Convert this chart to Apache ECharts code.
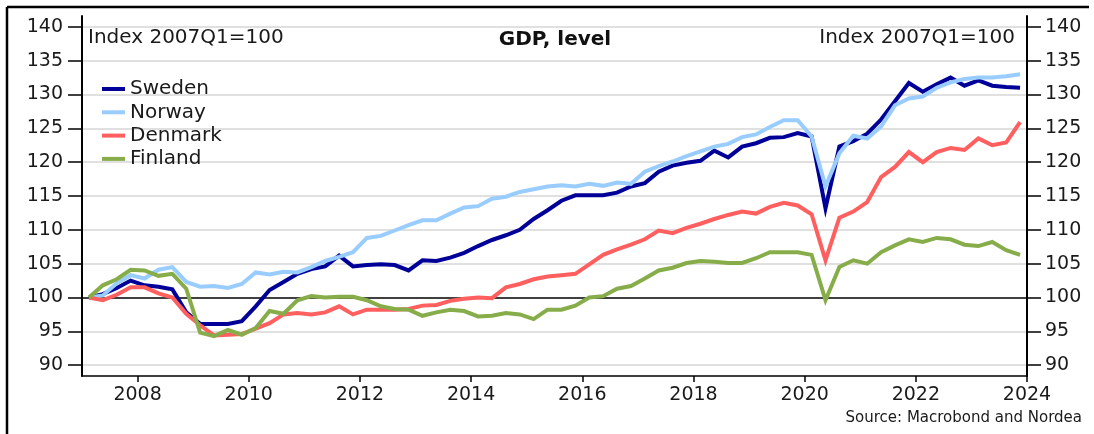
<!DOCTYPE html>
<html>
<head>
<meta charset="utf-8">
<title>GDP, level</title>
<script src="https://cdn.jsdelivr.net/npm/echarts@6/dist/echarts.min.js"></script>
<style>
  html, body { margin: 0; padding: 0; background: #fff; }
  #chart { width: 1094px; height: 434px; }
</style>
</head>
<body>
<div id="chart"></div>
<script>
// quarterly data, 2007Q1 .. 2023Q4, index 2007Q1 = 100
const quarters = []
for (let yr = 2007; yr <= 2023; yr++) {
  for (let q = 1; q <= 4; q++) quarters.push(yr + 'Q' + q)
}

const sweden = [
  100.0, 100.5, 101.4, 102.5, 101.8, 101.6, 101.2, 97.8,
  96.1, 96.1, 96.1, 96.5, 98.7, 101.1, 102.3, 103.5,
  104.2, 104.6, 106.2, 104.6, 104.8, 104.9, 104.8, 104.0,
  105.5, 105.4, 105.9, 106.6, 107.6, 108.5, 109.2, 110.0,
  111.6, 112.9, 114.3, 115.1, 115.1, 115.1, 115.5, 116.4,
  116.9, 118.6, 119.5, 119.9, 120.2, 121.7, 120.7, 122.3,
  122.8, 123.6, 123.7, 124.3, 123.8, 113.2, 122.3, 123.1,
  124.2, 126.3, 129.0, 131.7, 130.4, 131.5, 132.5, 131.3,
  132.1, 131.3, 131.1, 131.0
]
const norway = [
  100.0, 100.3, 102.1, 103.3, 102.8, 104.1, 104.5, 102.3,
  101.6, 101.7, 101.4, 102.0, 103.7, 103.4, 103.8, 103.7,
  104.5, 105.4, 106.0, 106.7, 108.8, 109.1, 109.9, 110.7,
  111.4, 111.4, 112.4, 113.3, 113.5, 114.6, 114.9, 115.6,
  116.0, 116.4, 116.6, 116.4, 116.8, 116.5, 117.0, 116.8,
  118.6, 119.4, 120.1, 120.9, 121.6, 122.3, 122.7, 123.7,
  124.1, 125.2, 126.2, 126.2, 123.8, 116.4, 121.3, 123.9,
  123.5, 125.3, 128.4, 129.4, 129.7, 131.0, 131.8, 132.3,
  132.5, 132.5, 132.7, 133.0
]
const denmark = [
  100.0, 99.6, 100.4, 101.5, 101.5, 100.6, 100.0, 97.6,
  95.9, 94.4, 94.5, 94.6, 95.4, 96.2, 97.5, 97.7,
  97.5, 97.8, 98.7, 97.5, 98.2, 98.2, 98.2, 98.3,
  98.8, 98.9, 99.5, 99.8, 100.0, 99.9, 101.5, 102.0,
  102.7, 103.1, 103.3, 103.5, 104.9, 106.3, 107.1, 107.8,
  108.6, 109.9, 109.5, 110.3, 110.9, 111.6, 112.2, 112.7,
  112.4, 113.4, 114.0, 113.6, 112.3, 105.5, 111.8, 112.7,
  114.1, 117.8, 119.3, 121.5, 120.0, 121.5, 122.1, 121.8,
  123.5, 122.5, 122.9, 125.9
]
const finland = [
  100.0, 101.8, 102.7, 104.1, 104.0, 103.2, 103.5, 101.3,
  94.8, 94.3, 95.2, 94.5, 95.5, 98.0, 97.6, 99.6,
  100.2, 100.0, 100.1, 100.1, 99.6, 98.7, 98.3, 98.2,
  97.3, 97.8, 98.2, 98.0, 97.2, 97.3, 97.7, 97.5,
  96.8, 98.2, 98.2, 98.8, 100.0, 100.2, 101.3, 101.7,
  102.8, 104.0, 104.4, 105.1, 105.4, 105.3, 105.1, 105.1,
  105.8, 106.7, 106.7, 106.7, 106.3, 99.6, 104.5, 105.5,
  105.0, 106.7, 107.7, 108.6, 108.2, 108.8, 108.6, 107.8,
  107.6, 108.2, 107.0, 106.3
]

const yTicks = [90, 95, 100, 105, 110, 115, 120, 125, 130, 135, 140]
const yearTicks = [2008, 2010, 2012, 2014, 2016, 2018, 2020, 2022, 2024]

const FONT = 'DejaVu Sans'
const TEXT = '#1a1a1a'

// place each quarter in the middle of its period on the year axis
function toPoints(values) {
  return values.map((v, i) => {
    const [yr, q] = quarters[i].split('Q').map(Number)
    return [yr + (q - 0.5) / 4, v]
  })
}

function makeYAxis(position, margin) {
  return {
    type: 'value',
    position: position,
    min: 88.4,
    max: 141.6,
    axisLine: { show: true, lineStyle: { color: '#000', width: 2 } },
    axisTick: {
      show: true,
      inside: false,
      length: 14,
      customValues: yTicks,
      lineStyle: { color: '#000', width: 1.5 },
    },
    axisLabel: {
      customValues: yTicks,
      margin: margin,
      color: TEXT,
      fontFamily: FONT,
      fontSize: 19,
    },
    splitLine: {
      show: position === 'left',
      lineStyle: {
        color: yTicks.map(v => (v === 100 ? '#000' : '#d6d6d6')),
        width: 1.6,
      },
    },
  }
}

function lineSeries(name, values, color) {
  return {
    name: name,
    type: 'line',
    data: toPoints(values),
    showSymbol: false,
    symbol: 'none',
    lineStyle: { color: color, width: 4, join: 'miter', cap: 'butt' },
    itemStyle: { color: color },
  }
}

const chart = echarts.init(document.getElementById('chart'), null, { renderer: 'canvas' })

chart.setOption({
  animation: false,
  backgroundColor: '#fff',
  grid: { left: 82, right: 67, top: 16, bottom: 58 },
  legend: {
    orient: 'vertical',
    left: 97,
    top: 74,
    itemWidth: 23,
    itemHeight: 4,
    itemGap: 3.3,
    icon: 'rect',
    textStyle: { fontFamily: FONT, fontSize: 20, color: TEXT, lineHeight: 20 },
    data: ['Sweden', 'Norway', 'Denmark', 'Finland'],
  },
  xAxis: {
    type: 'value',
    min: 2007,
    max: 2024,
    axisLine: { show: true, onZero: false, lineStyle: { color: '#000', width: 1.5 } },
    axisTick: {
      show: true,
      length: 6,
      customValues: yearTicks,
      lineStyle: { color: '#000', width: 1.5 },
    },
    axisLabel: {
      customValues: yearTicks,
      formatter: v => String(v),
      margin: 10,
      color: TEXT,
      fontFamily: FONT,
      fontSize: 19,
    },
    splitLine: { show: false },
  },
  yAxis: [makeYAxis('left', 19), makeYAxis('right', 18)],
  series: [
    lineSeries('Sweden', sweden, '#000099'),
    lineSeries('Norway', norway, '#99ccff'),
    lineSeries('Denmark', denmark, '#ff5f5f'),
    lineSeries('Finland', finland, '#86ad4a'),
  ],
  graphic: [
    { type: 'line', shape: { x1: 7, y1: 7, x2: 1089, y2: 7 }, style: { stroke: '#000', lineWidth: 2.5 } },
    { type: 'line', shape: { x1: 7, y1: 7, x2: 7, y2: 434 }, style: { stroke: '#000', lineWidth: 2.5 } },
    {
      type: 'text', x: 88, y: 38,
      style: { text: 'Index 2007Q1=100', font: '20px "DejaVu Sans"', fill: TEXT, textAlign: 'left', textVerticalAlign: 'middle' },
    },
    {
      type: 'text', x: 555, y: 40,
      style: { text: 'GDP, level', font: 'bold 20px "DejaVu Sans"', fill: '#111', textAlign: 'center', textVerticalAlign: 'middle' },
    },
    {
      type: 'text', x: 1015, y: 38,
      style: { text: 'Index 2007Q1=100', font: '20px "DejaVu Sans"', fill: TEXT, textAlign: 'right', textVerticalAlign: 'middle' },
    },
    {
      type: 'text', x: 1082, y: 418,
      style: { text: 'Source: Macrobond and Nordea', font: '15px "DejaVu Sans"', fill: TEXT, textAlign: 'right', textVerticalAlign: 'middle' },
    },
  ],
})
</script>
</body>
</html>
